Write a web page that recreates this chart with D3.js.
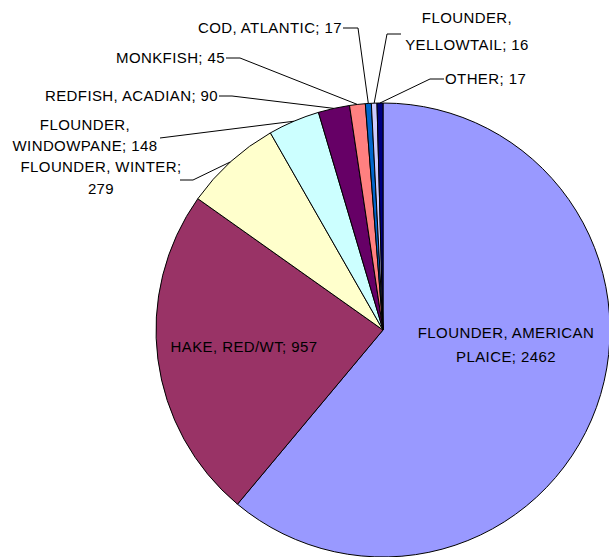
<!DOCTYPE html>
<html><head><meta charset="utf-8">
<script src="https://cdn.jsdelivr.net/npm/d3@7"></script>
<style>html,body{margin:0;padding:0;background:#fff;overflow:hidden}</style>
</head><body>
<svg id="chart" width="609" height="557"></svg>
<script>
const categories = ["FLOUNDER, AMERICAN PLAICE","HAKE, RED/WT","FLOUNDER, WINTER","FLOUNDER, WINDOWPANE","REDFISH, ACADIAN","MONKFISH","COD, ATLANTIC","FLOUNDER, YELLOWTAIL","OTHER"];
const values = [2462, 957, 279, 148, 90, 45, 17, 16, 17];
const colors = ["#9999FF","#993366","#FFFFCC","#CCFFFF","#660066","#FF8080","#0066CC","#CCCCFF","#000080"];
const labelLines = [
  ["FLOUNDER, AMERICAN","PLAICE; 2462"],
  ["HAKE, RED/WT; 957"],
  ["FLOUNDER, WINTER;","279"],
  ["FLOUNDER,","WINDOWPANE; 148"],
  ["REDFISH, ACADIAN; 90"],
  ["MONKFISH; 45"],
  ["COD, ATLANTIC; 17"],
  ["FLOUNDER,","YELLOWTAIL; 16"],
  ["OTHER; 17"]
];
// layout: text x, first line y, line height, anchor, leader start points
const layout = [
  {x:506, y:333, lh:24, anchor:"middle", leader:null},
  {x:244, y:347, lh:22, anchor:"middle", leader:null},
  {x:101, y:167, lh:22, anchor:"middle", leader:[[180,180],[193,180]]},
  {x:85,  y:125, lh:21, anchor:"middle", leader:[[160,138]]},
  {x:218, y:96,  lh:22, anchor:"end",    leader:[[219,96],[232,96]]},
  {x:225, y:58,  lh:22, anchor:"end",    leader:[[226,58],[240,58]]},
  {x:342, y:28,  lh:22, anchor:"end",    leader:[[343,28],[358,28]]},
  {x:467, y:18,  lh:27, anchor:"middle", leader:[[401,34],[387,34]]},
  {x:445, y:79,  lh:22, anchor:"start",  leader:[[444,79],[430,79]]}
];

const cx = 383, cy = 330, r = 227;
const svg = d3.select("#chart");
const g = svg.append("g").attr("transform", `translate(${cx},${cy})`);

const data = categories.map((c,i)=>({name:c, value:values[i], i}));
const pie = d3.pie().value(d=>d.value).sort(null).startAngle(0).endAngle(2*Math.PI);
const arcs = pie(data);
const arc = d3.arc().innerRadius(0).outerRadius(r);

g.selectAll("path.slice").data(arcs).join("path")
  .attr("class","slice")
  .attr("d", arc)
  .attr("fill", d=>colors[d.data.i])
  .attr("stroke","#000")
  .attr("stroke-width",1)
  .attr("stroke-linejoin","round");

// leader lines
const line = d3.line();
arcs.forEach(a=>{
  const L = layout[a.data.i];
  if(!L.leader) return;
  const mid = (a.startAngle + a.endAngle)/2;
  const p = [cx + r*Math.sin(mid), cy - r*Math.cos(mid)];
  const pts = L.leader.concat([p]);
  svg.append("path").attr("d", line(pts)).attr("fill","none")
    .attr("stroke","#000").attr("stroke-width",1);
});

// labels
arcs.forEach(a=>{
  const L = layout[a.data.i];
  const t = svg.append("text")
    .attr("text-anchor", L.anchor)
    .attr("font-family","'Liberation Sans', Arial, sans-serif")
    .attr("font-size","15px")
    .attr("letter-spacing","0.4px")
    .attr("fill","#000");
  labelLines[a.data.i].forEach((s,k)=>{
    t.append("tspan").attr("x", L.x).attr("y", L.y + k*L.lh).attr("dy","0.35em").text(s);
  });
});
</script>
</body></html>
